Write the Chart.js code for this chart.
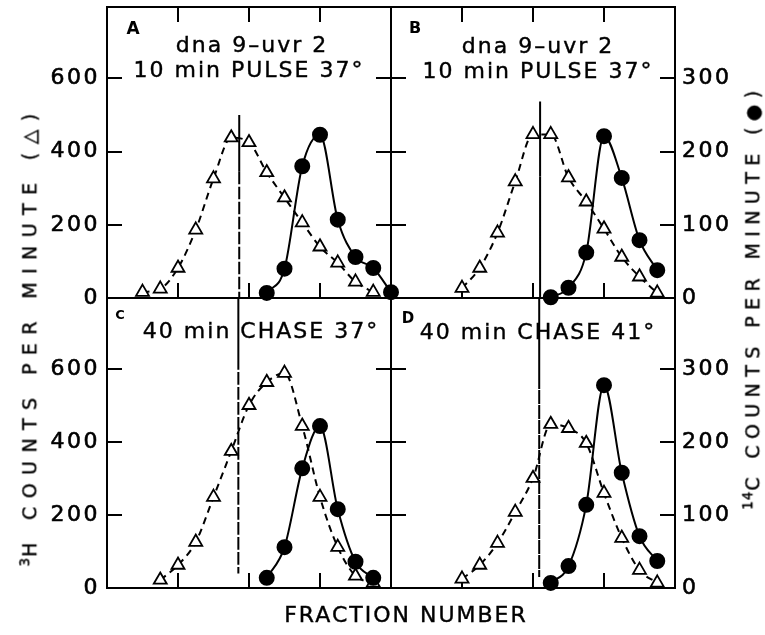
<!DOCTYPE html>
<html>
<head>
<meta charset="utf-8">
<script src="https://cdn.jsdelivr.net/npm/chart.js@4.4.0/dist/chart.umd.min.js"></script>
<style>
  body { margin: 0; background: #fff; }
  #wrap { position: relative; width: 765px; height: 635px; overflow: hidden; font-family: 'DejaVu Sans', sans-serif; color: #000; }
  canvas { position: absolute; left: 0; top: 0; }
  .t { position: absolute; white-space: nowrap; line-height: 1; transform: translate(-50%, -50%); }
  .title { font-size: 22px; letter-spacing: 2px; -webkit-text-stroke: 0.4px #000; }
  .tag { font-weight: bold; }
  .vt { position: absolute; white-space: nowrap; line-height: 1; font-size: 19px; -webkit-text-stroke: 0.4px #000; transform: translate(-50%, -50%) rotate(-90deg); }
  .vt sup { font-size: 0.7em; vertical-align: 0.55em; letter-spacing: 1px; }
</style>
</head>
<body>
<div id="wrap">
  <canvas id="panelA" width="765" height="635"></canvas>
  <canvas id="panelB" width="765" height="635"></canvas>
  <canvas id="panelC" width="765" height="635"></canvas>
  <canvas id="panelD" width="765" height="635"></canvas>

  <div class="t tag" style="left:133px;top:28px;font-size:17px">A</div>
  <div class="t tag" style="left:415px;top:28px;font-size:16px">B</div>
  <div class="t tag" style="left:120px;top:314px;font-size:13px">C</div>
  <div class="t tag" style="left:408px;top:318px;font-size:15px">D</div>

  <div class="t title" style="left:252px;top:45px">dna 9–uvr 2</div>
  <div class="t title" style="left:249px;top:70px">10 min PULSE 37°</div>
  <div class="t title" style="left:538px;top:46px">dna 9–uvr 2</div>
  <div class="t title" style="left:538px;top:71px">10 min PULSE 37°</div>
  <div class="t title" style="left:261px;top:331px">40 min CHASE 37°</div>
  <div class="t title" style="left:538px;top:332px">40 min CHASE 41°</div>

  <div class="t title" style="left:406px;top:615px">FRACTION NUMBER</div>
  <div class="vt" style="left:29px;top:336px;letter-spacing:8.4px"><sup>3</sup>H COUNTS PER MINUTE (△)</div>
  <div class="vt" style="left:752px;top:297px;letter-spacing:6.4px"><sup>14</sup>C COUNTS PER MINUTE (●)</div>
</div>

<script>
// ticks
const fracTicks = [4, 8, 12];
const tritiumTicks = [0, 200, 400, 600];
const carbonTicks = [0, 100, 200, 300];
const tritiumMax = 795;
const carbonMax = 397.5;

// A: pulse 37
const aTritiumFrac = [2, 3, 4, 5, 6, 7, 8, 9, 10, 11, 12, 13, 14, 15];
const aTritium = [16, 25, 82, 186, 326, 438, 425, 343, 274, 206, 140, 96, 44, 16];
const aCarbonFrac = [9, 10, 11, 12, 13, 14, 15, 16];
const aCarbon = [7, 40, 180, 223, 107, 56, 41, 8];
const aMarkX = 7.45;
const aMark = [500, 345, 0];

// B: pulse 37
const bTritiumFrac = [4, 5, 6, 7, 8, 9, 10, 11, 12, 13, 14, 15];
const bTritium = [27, 82, 178, 318, 447, 447, 329, 263, 189, 112, 58, 14];
const bCarbonFrac = [9, 10, 11, 12, 13, 14, 15];
const bCarbon = [1, 14, 62, 221, 164, 79, 38];
const bMarkX = 8.4;
const bMark = [537, 332, 0];

// C: chase 37
const cTritiumFrac = [3, 4, 5, 6, 7, 8, 9, 10, 11, 12, 13, 14, 15];
const cTritium = [22, 63, 126, 249, 375, 501, 564, 589, 444, 249, 112, 33, 14];
const cCarbonFrac = [9, 10, 11, 12, 13, 14, 15];
const cCarbon = [14, 56, 164, 222, 108, 36, 14];
const cMarkX = 7.4;
const cMark = [795, 633, 40];

// D: chase 41
const dTritiumFrac = [4, 5, 6, 7, 8, 9, 10, 11, 12, 13, 14, 15];
const dTritium = [25, 63, 123, 208, 301, 449, 438, 397, 260, 137, 49, 14];
const dCarbonFrac = [9, 10, 11, 12, 13, 14, 15];
const dCarbon = [7, 30, 114, 278, 158, 71, 37];
const dMarkX = 8.35;
const dMark = [795, 570, 30];

const spacing = {
  id: 'spacing',
  beforeDraw(chart) { chart.ctx.letterSpacing = '2.5px'; }
};

// size = room given to the axis (labels are clipped to it)
function axis(position, min, max, tickVals, showTicks, showLabels, size) {
  const horizontal = position === 'top' || position === 'bottom';
  return {
    type: 'linear',
    position: position,
    min: min,
    max: max,
    afterBuildTicks: s => { s.ticks = tickVals.map(v => ({ value: v })); },
    afterFit: s => {
      if (horizontal) s.height = size; else s.width = size;
      s.paddingTop = s.paddingBottom = s.paddingLeft = s.paddingRight = 0;
    },
    ticks: {
      display: showLabels,
      color: '#000',
      textStrokeColor: '#000',
      textStrokeWidth: 0.6,
      padding: position === 'left' ? 22 : 22,
      font: { family: 'DejaVu Sans', size: 22 }
    },
    grid: {
      drawOnChartArea: false,
      drawTicks: showTicks,
      tickLength: -15,
      color: '#000',
      lineWidth: 2
    },
    border: { color: '#000', width: 2 }
  };
}

function panel(id, box, hFrac, h, cFrac, c, markX, mark, opts) {
  const [left, top, right, bottom] = box;
  const leftSize = opts.leftLabels ? left : 0;
  const rightSize = opts.leftLabels ? 0 : 765 - right;
  new Chart(document.getElementById(id), {
    type: 'line',
    data: {
      datasets: [
        {
          data: cFrac.map((x, i) => ({ x: x, y: c[i] })),
          yAxisID: 'y2',
          borderColor: '#000',
          borderWidth: 2,
          pointStyle: 'circle',
          pointRadius: 7,
          pointBackgroundColor: '#000',
          pointBorderColor: '#000',
          cubicInterpolationMode: 'monotone',
          clip: false
        },
        {
          data: hFrac.map((x, i) => ({ x: x, y: h[i] })),
          yAxisID: 'y',
          borderColor: '#000',
          borderWidth: 2,
          borderDash: [7, 5],
          pointStyle: 'triangle',
          pointRadius: 7.5,
          pointBackgroundColor: '#fff',
          pointBorderColor: '#000',
          pointBorderWidth: 1.8,
          cubicInterpolationMode: 'monotone',
          clip: false
        },
        {
          data: mark.map(y => ({ x: markX, y: y })),
          yAxisID: 'y',
          borderColor: '#000',
          borderWidth: 2,
          pointRadius: 0,
          segment: { borderDash: ctx => ctx.p0DataIndex === 0 ? [] : [9, 6] }
        }
      ]
    },
    options: {
      responsive: false,
      animation: false,
      devicePixelRatio: 1,
      events: [],
      layout: {
        autoPadding: false,
        padding: { left: left - leftSize, top: top, right: 765 - right - rightSize, bottom: 635 - bottom }
      },
      plugins: { legend: { display: false }, tooltip: { enabled: false } },
      scales: {
        x: axis('bottom', 0, 16, fracTicks, true, false, 0),
        x2: axis('top', 0, 16, fracTicks, opts.topTicks, false, 0),
        y: axis('left', 0, tritiumMax, tritiumTicks, true, opts.leftLabels, leftSize),
        y2: axis('right', 0, carbonMax, carbonTicks, true, !opts.leftLabels, rightSize)
      }
    },
    plugins: [spacing]
  });
}

panel('panelA', [107, 7, 391, 298], aTritiumFrac, aTritium, aCarbonFrac, aCarbon, aMarkX, aMark, { topTicks: true, leftLabels: true });
panel('panelB', [391, 7, 675, 298], bTritiumFrac, bTritium, bCarbonFrac, bCarbon, bMarkX, bMark, { topTicks: true, leftLabels: false });
panel('panelC', [107, 298, 391, 588], cTritiumFrac, cTritium, cCarbonFrac, cCarbon, cMarkX, cMark, { topTicks: false, leftLabels: true });
panel('panelD', [391, 298, 675, 588], dTritiumFrac, dTritium, dCarbonFrac, dCarbon, dMarkX, dMark, { topTicks: false, leftLabels: false });
</script>
</body>
</html>
